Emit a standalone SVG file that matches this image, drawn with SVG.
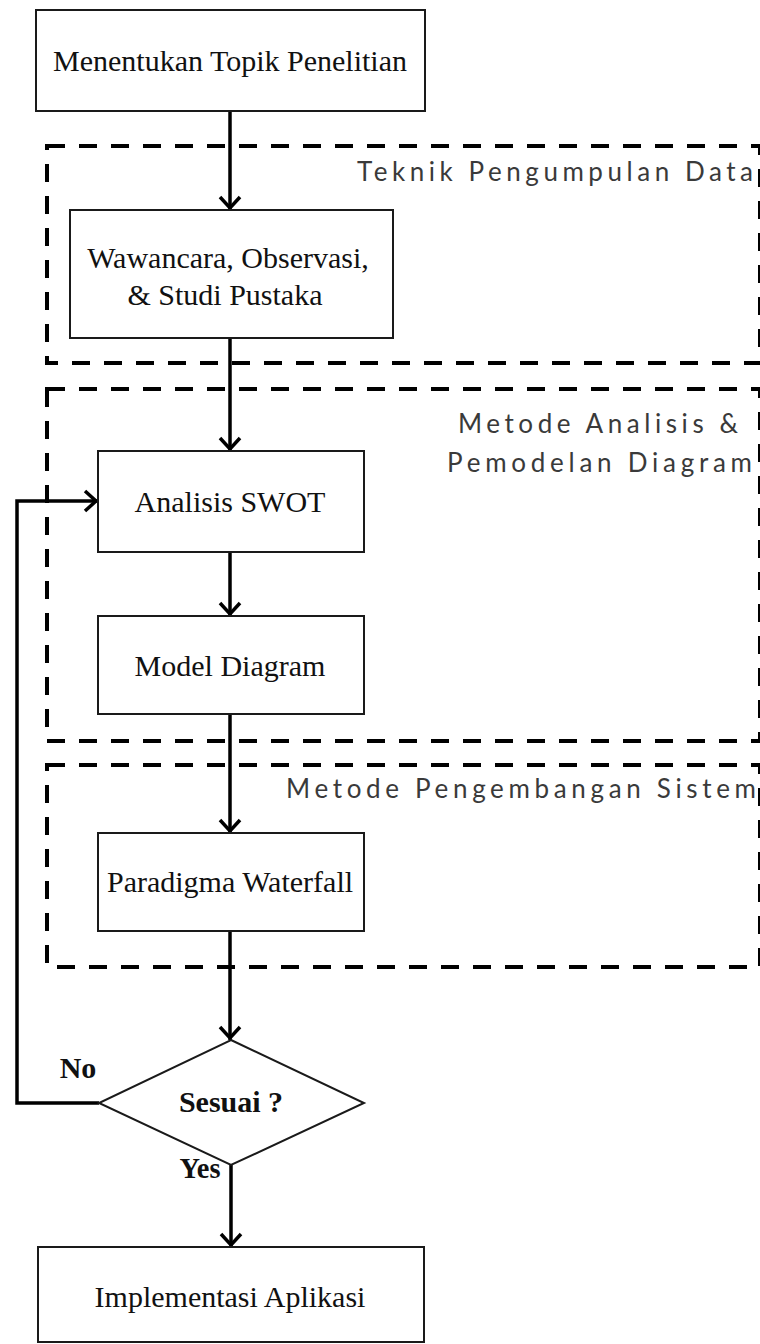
<svg xmlns="http://www.w3.org/2000/svg" width="760" height="1344" viewBox="0 0 760 1344">
  <style>
    .box { fill: #fff; stroke: #1a1a1a; stroke-width: 2; }
    .dec { fill: #fff; stroke: #1a1a1a; stroke-width: 2; }
    .zone { fill: none; stroke: #000; stroke-width: 4; stroke-dasharray: 18 14; }
    .t { font-family: "Liberation Serif", "Times New Roman", serif; font-size: 30px; fill: #111; text-anchor: middle; }
    .b { font-weight: bold; }
    .lbl { font-family: Lato, "Open Sans", "Liberation Sans", sans-serif; font-size: 26px; fill: #3a3a3a; }
    .conn { fill: none; stroke: #000; stroke-width: 3.5; marker-end: url(#arr); }
  </style>
  <defs>
    <marker id="arr" markerUnits="userSpaceOnUse" markerWidth="30" markerHeight="30" viewBox="-15 -15 30 30" refX="0" refY="0" orient="auto">
      <path d="M-13,-10 L-2,0 L-13,10" fill="none" stroke="#000" stroke-width="3.5"/>
    </marker>
  </defs>
  <rect width="760" height="1344" fill="#fff"/>

  <g id="zones">
    <g id="zone-data">
      <rect class="zone" x="47" y="146" width="713" height="217"/>
      <text class="lbl" x="357" y="181" textLength="396" lengthAdjust="spacing">Teknik Pengumpulan Data</text>
    </g>
    <g id="zone-analisis">
      <rect class="zone" x="47" y="389" width="713" height="352"/>
      <text class="lbl" x="458" y="433" textLength="280" lengthAdjust="spacing">Metode Analisis &amp;</text>
      <text class="lbl" x="447" y="472" textLength="305" lengthAdjust="spacing">Pemodelan Diagram</text>
    </g>
    <g id="zone-pengembangan">
      <rect class="zone" x="47" y="765" width="713" height="202"/>
      <text class="lbl" x="286" y="798" textLength="470" lengthAdjust="spacing">Metode Pengembangan Sistem</text>
    </g>
  </g>

  <g id="connectors">
    <path class="conn" d="M230,111 V210"/>
    <path class="conn" d="M230,338 V451"/>
    <path class="conn" d="M230,552 V616"/>
    <path class="conn" d="M230,714 V833"/>
    <path class="conn" d="M230,931 V1040"/>
    <path class="conn" d="M99,1103 H17 V501 H98"/>
    <path class="conn" d="M231,1165 V1247"/>
    <text class="t b" x="78" y="1078">No</text>
    <text class="t b" x="200" y="1178" textLength="41" lengthAdjust="spacingAndGlyphs">Yes</text>
  </g>

  <g id="n-topik">
    <rect class="box" x="36" y="10" width="389" height="101"/>
    <text class="t" x="230" y="71">Menentukan Topik Penelitian</text>
  </g>
  <g id="n-wawancara">
    <rect class="box" x="70" y="210" width="323" height="128"/>
    <text class="t" x="228" y="268">Wawancara, Observasi,</text>
    <text class="t" x="225" y="305">&amp; Studi Pustaka</text>
  </g>
  <g id="n-swot">
    <rect class="box" x="98" y="451" width="266" height="101"/>
    <text class="t" x="230" y="512">Analisis SWOT</text>
  </g>
  <g id="n-model">
    <rect class="box" x="98" y="616" width="266" height="98"/>
    <text class="t" x="230" y="676">Model Diagram</text>
  </g>
  <g id="n-waterfall">
    <rect class="box" x="98" y="833" width="266" height="98"/>
    <text class="t" x="230" y="892">Paradigma Waterfall</text>
  </g>
  <g id="n-sesuai">
    <polygon class="dec" points="231,1040 364,1103 231,1165 99,1103"/>
    <text class="t b" x="231" y="1112">Sesuai ?</text>
  </g>
  <g id="n-implementasi">
    <rect class="box" x="38" y="1247" width="386" height="95"/>
    <text class="t" x="230" y="1307">Implementasi Aplikasi</text>
  </g>
</svg>
